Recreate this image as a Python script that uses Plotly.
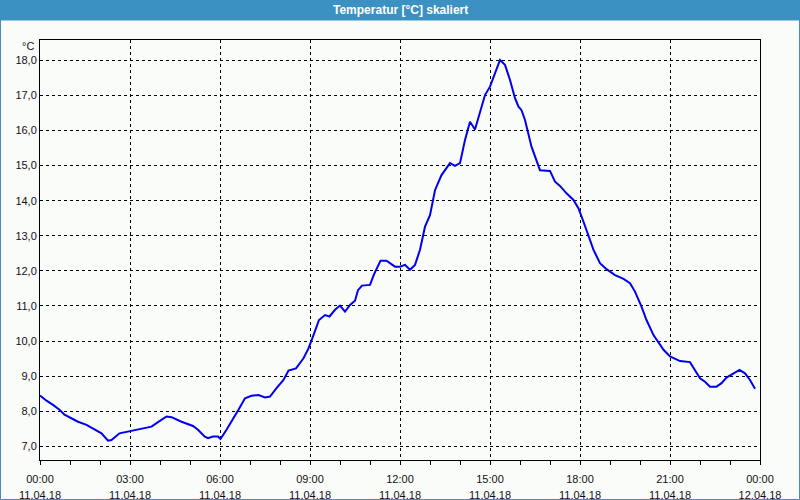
import plotly.graph_objects as go

# ---- data ----
times = ["00:00","00:13","00:26","00:39","00:49","01:03","01:16","01:33","01:49","02:03",
         "02:16","02:23","02:39","02:56","03:09","03:29","03:43","03:56","04:13","04:23",
         "04:43","05:06","05:16","05:29","05:36","05:46","05:56","06:01","06:13","06:37",
         "06:50","07:03","07:17","07:30","07:40","07:53","08:07","08:17","08:32","08:47",
         "08:57","09:07","09:18","09:30","09:39","09:50","10:00","10:10","10:20","10:30",
         "10:36","10:44","11:00","11:08","11:21","11:33","11:50","12:00","12:10","12:20",
         "12:30","12:40","12:50","13:00","13:10","13:23","13:40","13:50","14:00","14:10",
         "14:20","14:30","14:40","14:50","15:00","15:10","15:20","15:30","15:40","15:50",
         "15:57","16:03","16:10","16:23","16:33","16:40","17:00","17:10","17:20","17:33",
         "17:47","17:57","18:07","18:17","18:27","18:40","18:53","19:10","19:27","19:40",
         "19:50","20:03","20:13","20:27","20:37","20:47","21:00","21:20","21:40","21:50",
         "22:00","22:10","22:20","22:33","22:43","22:53","23:07","23:19","23:30","23:40",
         "23:50"]
temps = [8.45,8.30,8.18,8.04,7.90,7.80,7.70,7.61,7.49,7.37,
         7.16,7.18,7.37,7.42,7.47,7.53,7.56,7.69,7.85,7.83,
         7.70,7.58,7.47,7.28,7.23,7.28,7.28,7.21,7.47,8.04,
         8.37,8.44,8.46,8.39,8.42,8.66,8.89,9.16,9.22,9.51,
         9.79,10.17,10.60,10.74,10.70,10.89,11.01,10.84,11.03,11.15,
         11.45,11.58,11.60,11.90,12.29,12.29,12.12,12.12,12.17,12.03,
         12.17,12.60,13.26,13.59,14.30,14.73,15.07,14.99,15.07,15.73,
         16.25,16.03,16.54,17.01,17.25,17.63,18.01,17.87,17.44,16.92,
         16.68,16.58,16.30,15.54,15.16,14.87,14.85,14.54,14.42,14.21,
         14.02,13.78,13.40,13.02,12.60,12.22,12.05,11.88,11.77,11.65,
         11.41,10.98,10.60,10.17,9.94,9.75,9.56,9.43,9.40,9.18,
         8.94,8.84,8.70,8.70,8.80,8.96,9.08,9.18,9.08,8.89,
         8.64]

tick_hours = [0, 3, 6, 9, 12, 15, 18, 21, 24]
tick_time_text = ["00:00","03:00","06:00","09:00","12:00","15:00","18:00","21:00","00:00"]
tick_date_text = ["11.04.18","11.04.18","11.04.18","11.04.18","11.04.18",
                  "11.04.18","11.04.18","11.04.18","12.04.18"]
title_text = "Temperatur [°C] skaliert"
unit_text = "°C"

x_hours = [int(t[:2]) + int(t[3:]) / 60 for t in times]

BG = "#fafcfa"
BLUE = "#3c91c3"
FONT = "Liberation Sans"
TXT = "#111111"

fig = go.Figure()
fig.add_trace(go.Scatter(x=x_hours, y=temps, mode="lines",
                         line=dict(color="#0000ee", width=2), hoverinfo="skip"))
# empty traces so the label axes are drawn
fig.add_trace(go.Scatter(x=[], y=[], xaxis="x2", yaxis="y", mode="lines",
                         hoverinfo="skip", showlegend=False))
fig.add_trace(go.Scatter(x=[], y=[], xaxis="x3", yaxis="y", mode="lines",
                         hoverinfo="skip", showlegend=False))

W, H = 800, 500
L, R, T, B = 40, 40, 40, 40
pw, ph = W - L - R, H - T - B

def px_x(p):
    return (p - L) / pw

def px_y(p):
    return 1 - (p - T) / ph

label_axis = dict(
    automargin=False, overlaying="x", anchor="y", side="bottom",
    range=[0, 24], tickvals=tick_hours,
    showgrid=False, showline=False, zeroline=False,
    ticks="outside", tickcolor="rgba(0,0,0,0)",
    tickfont=dict(family=FONT, size=11, color=TXT),
)

fig.update_layout(
    width=W, height=H,
    margin=dict(l=L, r=R, t=T, b=B, pad=0, autoexpand=False),
    paper_bgcolor=BG, plot_bgcolor=BG,
    separators=",.",
    showlegend=False,
    font=dict(family=FONT, size=11, color=TXT),
    xaxis=dict(
        automargin=False,
        range=[0, 24],
        tickvals=tick_hours, showticklabels=False,
        showgrid=True, gridcolor="black", griddash="3px,3px", gridwidth=1,
        showline=True, linecolor="black", linewidth=1, mirror=True,
        ticks="", zeroline=False,
        minor=dict(dtick=1, tick0=0, ticks="outside", ticklen=4, tickcolor="black",
                   tickwidth=1, showgrid=False),
    ),
    xaxis2=dict(label_axis, ticktext=tick_time_text, ticklen=9),
    xaxis3=dict(label_axis, ticktext=tick_date_text, ticklen=25),
    yaxis=dict(
        automargin=False,
        range=[6.61, 18.58],
        tick0=7, dtick=1, tickformat=".1f",
        showgrid=True, gridcolor="black", griddash="3px,3px", gridwidth=1,
        showline=True, linecolor="black", linewidth=1, mirror=True,
        ticks="", zeroline=False,
        tickfont=dict(family=FONT, size=11, color=TXT),
    ),
    shapes=[
        dict(type="rect", xref="paper", yref="paper",
             x0=px_x(0), x1=px_x(800), y0=px_y(20), y1=px_y(0),
             fillcolor=BLUE, line=dict(width=0), layer="above"),
        dict(type="rect", xref="paper", yref="paper",
             x0=px_x(0.5), x1=px_x(799.5), y0=px_y(499.5), y1=px_y(20),
             fillcolor="rgba(0,0,0,0)", line=dict(color=BLUE, width=1), layer="above"),
    ],
    annotations=[
        dict(text="<b>" + title_text + "</b>", xref="paper", yref="paper",
             x=px_x(400), y=px_y(10), showarrow=False, xanchor="center", yanchor="middle",
             font=dict(family=FONT, size=12, color="white")),
        dict(text=unit_text, xref="paper", yref="paper",
             x=px_x(36), y=px_y(46), showarrow=False, xanchor="right", yanchor="middle",
             font=dict(family=FONT, size=11, color=TXT)),
    ],
)

fig.write_html("out.html")
